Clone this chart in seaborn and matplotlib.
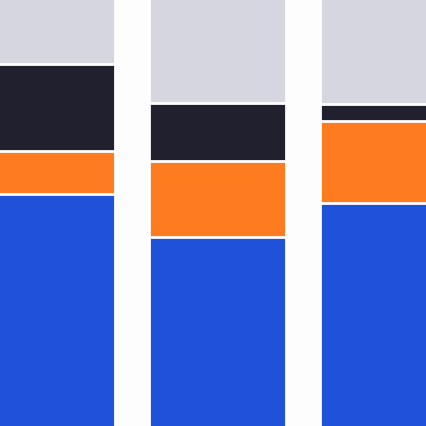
import numpy as np
import pandas as pd
import matplotlib
matplotlib.use("Agg")
import matplotlib.pyplot as plt
import seaborn as sns

categories = ["A", "B", "C"]
blue = [54.5, 44.4, 52.3]
orange = [9.9, 17.6, 19.2]
dark = [20.2, 13.6, 3.8]
gray = [15.4, 24.4, 24.7]

sns.set_theme(style="white")
fig = plt.figure(figsize=(4.26, 4.26), dpi=100)
fig.patch.set_facecolor("#fdfdfd")
ax = fig.add_axes([0, 0, 1, 1])
ax.set_facecolor("#fdfdfd")

stack_order = [blue, orange, dark, gray]
cum = np.cumsum(np.array(stack_order), axis=0)
colors = ["#1f52d8", "#ff7b1f", "#20202e", "#d6d6e0"]
for i in range(3, -1, -1):
    df = pd.DataFrame({"cat": categories, "val": cum[i]})
    sns.barplot(data=df, x="cat", y="val", color=colors[i], saturation=1,
                width=0.8, edgecolor="white", linewidth=2, ax=ax)

ax.set_xlim(-0.279, 2.226)
ax.set_ylim(0.4, 99.6)
ax.set_axis_off()
fig.savefig("out.png", dpi=100, facecolor=fig.get_facecolor())
